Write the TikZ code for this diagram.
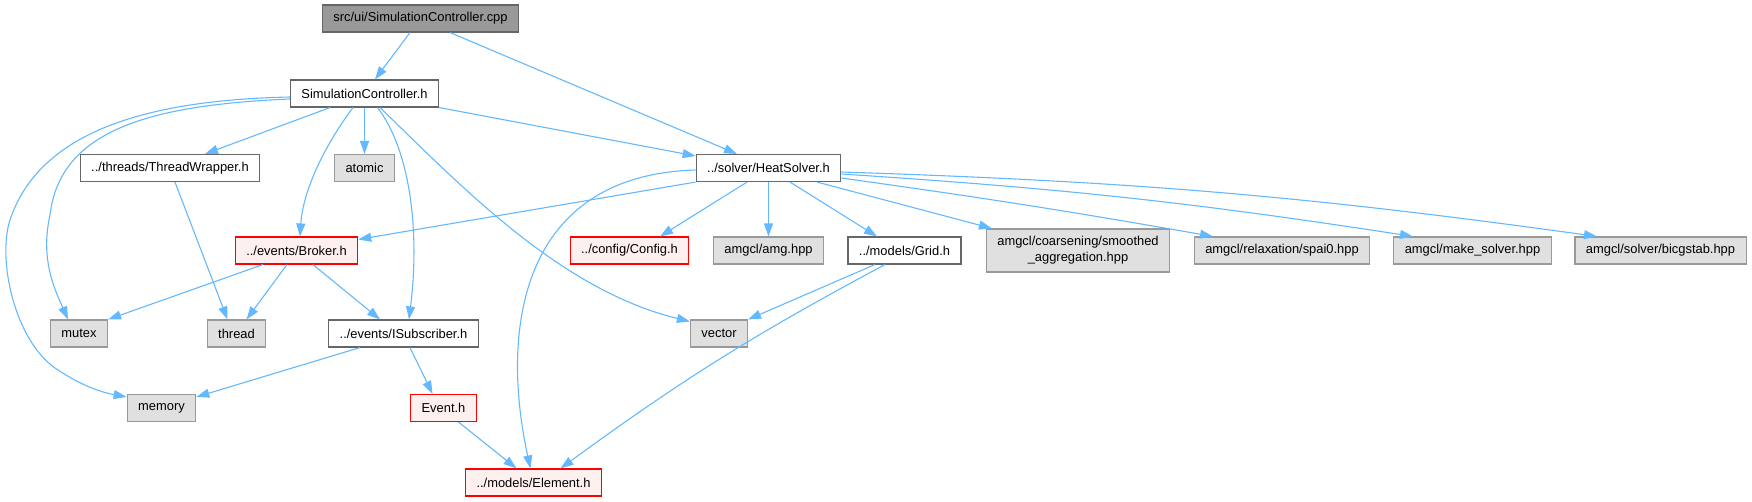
\documentclass[tikz,border=0pt]{standalone}
\usepackage{fontspec}
\setmainfont{Liberation Sans}
\usetikzlibrary{arrows.meta}
\definecolor{edgeblue}{HTML}{63B8FF}
\definecolor{rootfill}{HTML}{999999}
\definecolor{darkline}{HTML}{666666}
\definecolor{sysfill}{HTML}{E0E0E0}
\definecolor{sysline}{HTML}{999999}
\definecolor{truncfill}{HTML}{FFF0F0}
\tikzset{
  file/.style ={draw, line width=1.1pt, minimum height=27pt, inner xsep=11pt,
                inner ysep=0pt, align=center, font=\fontsize{12.9}{15.7}\selectfont},
  root/.style ={file, fill=rootfill, draw=darkline},
  hdr/.style  ={file, fill=white,    draw=darkline},
  sys/.style  ={file, fill=sysfill,  draw=sysline},
  trunc/.style={file, fill=truncfill, draw=red},
  inc/.style  ={-{Triangle[length=13pt,width=9pt]}, draw=edgeblue, line width=1.1pt},
}

\begin{document}
\begin{tikzpicture}[x=1pt, y=-1pt]
  \useasboundingbox (0,0) rectangle (1752,501);

  % ---------------- top: the source file and its headers ----------------
  \node[root] (cpp)    at (420.5,18.5) {src/ui/SimulationController.cpp};
  \node[hdr]  (simh)   at (364.5,93.5) {SimulationController.h};
  \node[hdr]  (thrw)   at (170,168)    {../threads/ThreadWrapper.h};
  \node[sys]  (atomic) at (364.5,168)  {atomic};
  \node[hdr]  (heat)   at (768.5,168)  {../solver/HeatSolver.h};

  % ---------------- middle row ----------------
  \node[trunc] (broker)   at (296.5,250.5) {../events/Broker.h};
  \node[trunc] (config)   at (629.5,250.5) {../config/Config.h};
  \node[sys]   (amg)      at (768.5,250.5) {amgcl/amg.hpp};
  \node[hdr]   (grid)     at (904.5,250.5) {../models/Grid.h};
  \node[sys, minimum height=43pt] (smoothed) at (1078,250.5)
        {amgcl/coarsening/smoothed\\\_aggregation.hpp};
  \node[sys]   (spai)     at (1282,250.5)   {amgcl/relaxation/spai0.hpp};
  \node[sys]   (makes)    at (1472.5,250.5) {amgcl/make\_solver.hpp};
  \node[sys]   (bicg)     at (1660.5,250.5) {amgcl/solver/bicgstab.hpp};

  % ---------------- lower rows ----------------
  \node[sys]   (mutex)   at (79,333.5)    {mutex};
  \node[sys]   (thread)  at (236.5,333.5)  {thread};
  \node[hdr]   (isub)    at (403.5,333.5)  {../events/ISubscriber.h};
  \node[sys]   (vector)  at (719,333.5)    {vector};
  \node[sys]   (memory)  at (161.5,408)    {memory};
  \node[trunc] (event)   at (443.5,408)    {Event.h};
  \node[trunc] (element) at (533.5,482.5)  {../models/Element.h};

  % ---- includes of the .cpp ----
  \draw[inc] ([xshift=-10.5pt]cpp.south) -- (simh);
  \draw[inc] ([xshift=29.5pt]cpp.south) -- ([xshift=-31.5pt]heat.north);

  % ---- includes of SimulationController.h ----
  \foreach \a/\b in {simh/atomic, heat/amg}
    \draw[inc] (\a) -- (\b);
  \draw[inc] ([xshift=-34.5pt]simh.south) -- ([xshift=35pt]thrw.north);
  \draw[inc] ([xshift=-11.5pt]simh.south) .. controls (325,145) and (303,190) .. ([xshift=3.5pt]broker.north);
  \draw[inc] ([xshift=13pt]simh.south) .. controls (410,150) and (420,230) .. ([xshift=5.5pt]isub.north);
  \draw[inc] ([xshift=15.5pt]simh.south) .. controls (460,185) and (560,290) .. ([yshift=-2pt]vector.north west);
  \draw[inc] (simh.south east) -- ([yshift=-2pt]heat.north west);
  \draw[inc] ([yshift=-5.5pt]simh.west) .. controls (150,105) and (60,130) .. (50,215)
             .. controls (40,260) and (55,290) .. ([xshift=-11pt]mutex.north);
  \draw[inc] ([yshift=-3.5pt]simh.west) .. controls (150,100) and (40,130) .. (10,220)
             .. controls (-3,260) and (15,340) .. (55,368)
             .. controls (80,385) and (100,392) .. ([yshift=-3pt]memory.north west);

  % ---- includes of ThreadWrapper.h and Broker.h ----
  \draw[inc] ([xshift=5pt]thrw.south) -- ([xshift=-9pt]thread.north);
  \draw[inc] ([xshift=-33.5pt]broker.south) -- (mutex.north east);
  \draw[inc] ([xshift=-9.5pt]broker.south) -- ([xshift=10pt]thread.north);
  \draw[inc] ([xshift=16.5pt]broker.south) -- ([xshift=-23.5pt]isub.north);

  % ---- includes of HeatSolver.h ----
  \draw[inc] (heat.south west) -- ([yshift=-3pt]broker.north east);
  \draw[inc] ([yshift=-2pt]heat.west) .. controls (520,175) and (500,330) .. ([xshift=-3pt]element.north);
  \draw[inc] ([xshift=-21.5pt]heat.south) -- ([xshift=30.5pt]config.north);
  \draw[inc] ([xshift=21.5pt]heat.south) -- ([xshift=-27.5pt]grid.north);
  \draw[inc] ([xshift=48.5pt]heat.south) -- ([xshift=-86pt]smoothed.north);
  \draw[inc] ([yshift=-10pt]heat.east) to[bend left=1] ([xshift=-69pt]spai.north);
  \draw[inc] ([yshift=-6pt]heat.east) to[bend left=2.5] ([xshift=-59.5pt]makes.north);
  \draw[inc] ([yshift=-4pt]heat.east) to[bend left=3] ([xshift=-63.5pt]bicg.north);

  % ---- Grid.h, ISubscriber.h, Event.h ----
  \draw[inc] ([xshift=-29.5pt]grid.south) -- (vector.north east);
  \draw[inc] ([xshift=-19.5pt]grid.south) to[bend right=4] ([xshift=27pt]element.north);
  \draw[inc] ([xshift=-43.5pt]isub.south) -- ([yshift=-3pt]memory.north east);
  \draw[inc] ([xshift=6.5pt]isub.south) -- ([xshift=-11pt]event.north);
  \draw[inc] ([xshift=15pt]event.south) -- ([xshift=-17pt]element.north);
\end{tikzpicture}
\end{document}
